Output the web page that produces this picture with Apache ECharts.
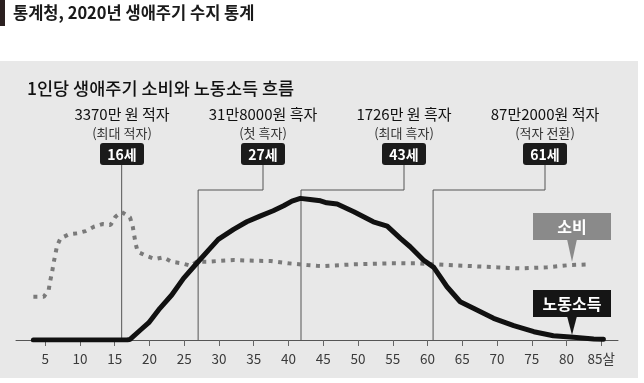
<!DOCTYPE html>
<html><head><meta charset="utf-8">
<script src="https://cdn.jsdelivr.net/npm/echarts@6/dist/echarts.min.js"></script>
<style>html,body{margin:0;padding:0;background:#fff}#c{width:644px;height:383px}</style>
</head><body><div id="c"></div>
<script>
// ---- data (ages in years, values in 만원) ----
const consumptionAges = [3.3,4.8,5.5,5.7,6.0,6.2,6.7,7.2,8.4,9.6,10.8,12.0,13.2,14.4,15.1,16.0,17.2,17.6,18.0,18.3,19.6,20.8,22.0,23.2,24.7,25.9,26.8,28.3,29.7,32.1,35.0,37.4,40.0,42.7,44.1,45.0,49.4,54.2,58.5,62.8,66.2,70.0,73.3,77.2,80.5,83.4];
const consumption = [1139,1139,1315,1533,1796,2017,2472,2675,2780,2806,2867,2980,3051,3025,3243,3370,3227,2980,2543,2322,2209,2130,2175,2059,2017,1954,2059,2059,2078,2104,2086,2078,2017,1973,1954,1946,1991,2017,2017,1973,1946,1912,1886,1912,1973,1991];
const incomeAges = [3.3,16.8,17.2,18.7,19.9,21.5,23.2,24.9,27.0,28.5,29.9,32.1,34.0,35.9,37.8,39.3,40.5,41.7,43.1,44.6,45.5,47.0,49.4,52.2,54.2,56.1,57.5,59.4,60.9,62.8,64.7,66.6,69.5,72.4,75.3,78.1,81.0,83.9,85.3];
const income = [0,0,18,263,455,834,1184,1623,2059,2367,2648,2911,3111,3261,3401,3532,3656,3727,3700,3664,3611,3577,3374,3111,2998,2675,2454,2104,1912,1402,1007,834,571,376,218,113,71,26,18];
const tickAges = [5,10,15,20,25,30,35,40,45,50,55,60,65,70,75,80,85];
const calloutAges = [16, 27, 41.8, 60.8];
const calloutBoxes = ['16세','27세','43세','61세'];
const calloutMain = ['3370만 원 적자','31만8000원 흑자','1726만 원 흑자','87만2000원 적자'];
const calloutSub = ['(최대 적자)','(첫 흑자)','(최대 흑자)','(적자 전환)'];
const headerTitle = '통계청, 2020년 생애주기 수지 통계';
const chartTitle = '1인당 생애주기 소비와 노동소득 흐름';
const seriesNames = ['소비','노동소득'];

// ---- layout ----
const FONT = '"Noto Sans CJK KR", "Noto Sans", sans-serif';
const calloutX = [122, 263, 404, 545];

const chart = echarts.init(document.getElementById('c'), null, {renderer:'canvas'});
const zip = (a,b)=>a.map((v,i)=>[v,b[i]]);

chart.setOption({
  backgroundColor:'#ffffff',
  animation:false,
  grid:{left:16, right:26, top:74, bottom:43},
  xAxis:{
    type:'value', min:0.8, max:87.4,
    axisLine:{show:true, lineStyle:{color:'#555', width:1}},
    axisTick:{show:true, customValues:tickAges, length:6, lineStyle:{color:'#666'}},
    axisLabel:{customValues:tickAges, margin:12, color:'#3a3a3a', fontSize:13.5, fontFamily:FONT,
      formatter:v=> v===85 ? '85살' : String(v)},
    splitLine:{show:false}
  },
  yAxis:{type:'value', min:0, max:7000, show:false, splitLine:{show:false}},
  series:[
    {name:seriesNames[0], type:'line', data:zip(consumptionAges, consumption), symbol:'none',
     lineStyle:{color:'#7a7a7a', width:4, type:[4,5.5], cap:'butt'}, z:3},
    {name:seriesNames[1], type:'line', data:zip(incomeAges, income), symbol:'none',
     lineStyle:{color:'#111', width:5, join:'round', cap:'round'}, z:4}
  ]
});

const toPx = (a,v)=>chart.convertToPixel({gridIndex:0},[a,v]);
const g = [];
// panel background
g.push({type:'rect', shape:{x:0,y:61,width:638,height:317}, style:{fill:'#e8e8e8'}, z:-10, silent:true});
// header
g.push({type:'rect', shape:{x:0,y:0,width:5,height:26}, style:{fill:'#2b2020'}, z:5});
g.push({type:'text', x:13, y:13, style:{text:headerTitle, fill:'#1a1a1a', font:'bold 16.5px '+FONT, textVerticalAlign:'middle'}, z:5});
// chart title
g.push({type:'text', x:27, y:88, style:{text:chartTitle, fill:'#111', font:'500 17.5px '+FONT, textVerticalAlign:'middle'}, z:5});

const boxTop = 143, boxH = 22, boxW = 44, elbowY = 190;
calloutAges.forEach((age,i)=>{
  const cx = calloutX[i];
  g.push({type:'text', x:cx, y:114, style:{text:calloutMain[i], fill:'#111', font:'15px '+FONT, textAlign:'center', textVerticalAlign:'middle'}, z:5});
  g.push({type:'text', x:cx, y:133, style:{text:calloutSub[i], fill:'#333', font:'13px '+FONT, textAlign:'center', textVerticalAlign:'middle'}, z:5});
  g.push({type:'rect', shape:{x:cx-boxW/2, y:boxTop, width:boxW, height:boxH, r:3}, style:{fill:'#1b1b1b'}, z:5});
  g.push({type:'text', x:cx, y:boxTop+boxH/2+0.5, style:{text:calloutBoxes[i], fill:'#fff', font:'bold 14px '+FONT, textAlign:'center', textVerticalAlign:'middle'}, z:6});
  const base = toPx(age,0);
  let pts;
  if (Math.abs(base[0]-cx) < 2) {
    pts = [[base[0], boxTop+boxH],[base[0], base[1]]];
  } else {
    pts = [[cx, boxTop+boxH],[cx, elbowY],[base[0], elbowY],[base[0], base[1]]];
  }
  g.push({type:'polyline', shape:{points:pts}, style:{stroke:'#555', lineWidth:1, fill:null}, z:2});
});

// series callouts
function callout(text, fill, top, tipY){
  const x0 = 533, w = 78, h = 27, tipX = 572;
  g.push({type:'rect', shape:{x:x0, y:top, width:w, height:h}, style:{fill:fill}, z:7});
  g.push({type:'polygon', shape:{points:[[tipX-5, top+h-1],[tipX+5, top+h-1],[tipX, tipY]]}, style:{fill:fill}, z:7});
  g.push({type:'text', x:x0+w/2, y:top+h/2+0.5, style:{text:text, fill:'#fff', font:'bold 16px '+FONT, textAlign:'center', textVerticalAlign:'middle'}, z:8});
}
callout(seriesNames[0], '#8a8a8a', 213, 262);
callout(seriesNames[1], '#151515', 290, 335);

chart.setOption({graphic:{elements:g}});
</script>
</body></html>
